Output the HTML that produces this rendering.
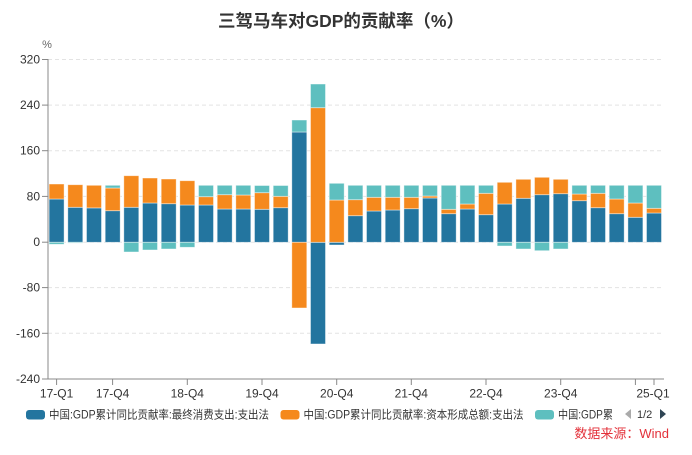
<!DOCTYPE html>
<html><head><meta charset="utf-8">
<style>
html,body{margin:0;padding:0;background:#fff;}
body{width:692px;height:450px;overflow:hidden;}
svg text{font-family:"Liberation Sans","Noto Sans CJK SC",sans-serif;}
</style></head>
<body>
<svg width="692" height="450" viewBox="0 0 692 450" xmlns="http://www.w3.org/2000/svg">
<text x="341" y="27" text-anchor="middle" font-size="17.5" font-weight="bold" fill="#333">三驾马车对GDP的贡献率（%）</text>
<text x="47" y="48" text-anchor="middle" font-size="11" fill="#666">%</text>
<g stroke="#e3e3e3" stroke-width="1" stroke-dasharray="4,3">
<line x1="48" y1="59.5" x2="664" y2="59.5"/>
<line x1="48" y1="105.1" x2="664" y2="105.1"/>
<line x1="48" y1="150.7" x2="664" y2="150.7"/>
<line x1="48" y1="196.4" x2="664" y2="196.4"/>
<line x1="48" y1="242.2" x2="664" y2="242.2"/>
<line x1="48" y1="287.6" x2="664" y2="287.6"/>
<line x1="48" y1="333.3" x2="664" y2="333.3"/>
</g>
<g font-size="12" fill="#333" text-anchor="end">
<text x="40" y="63.5">320</text>
<text x="40" y="109.1">240</text>
<text x="40" y="154.7">160</text>
<text x="40" y="200.4">80</text>
<text x="40" y="246.2">0</text>
<text x="40" y="291.6">-80</text>
<text x="40" y="337.3">-160</text>
<text x="40" y="383">-240</text>
</g>
<g stroke="#888" stroke-width="1">
<line x1="42" y1="59.5" x2="48" y2="59.5"/>
<line x1="42" y1="105.1" x2="48" y2="105.1"/>
<line x1="42" y1="150.7" x2="48" y2="150.7"/>
<line x1="42" y1="196.4" x2="48" y2="196.4"/>
<line x1="42" y1="242.2" x2="48" y2="242.2"/>
<line x1="42" y1="287.6" x2="48" y2="287.6"/>
<line x1="42" y1="333.3" x2="48" y2="333.3"/>
<line x1="42" y1="379" x2="48" y2="379"/>
</g>
<g stroke="#ffffff" stroke-opacity="0.55" stroke-width="0.8">
<g fill="#23759f">
<rect x="49.1" y="199" width="15" height="43.3"/>
<rect x="67.8" y="207.3" width="15" height="35"/>
<rect x="86.5" y="207.9" width="15" height="34.4"/>
<rect x="105.2" y="210.7" width="15" height="31.6"/>
<rect x="123.8" y="207.3" width="15" height="35"/>
<rect x="142.5" y="203" width="15" height="39.3"/>
<rect x="161.2" y="203.7" width="15" height="38.6"/>
<rect x="179.8" y="205" width="15" height="37.3"/>
<rect x="198.5" y="205" width="15" height="37.3"/>
<rect x="217.2" y="209" width="15" height="33.3"/>
<rect x="235.8" y="209" width="15" height="33.3"/>
<rect x="254.5" y="209.3" width="15" height="33"/>
<rect x="273.2" y="207.7" width="15" height="34.6"/>
<rect x="291.8" y="132" width="15" height="110.3"/>
<rect x="310.5" y="242.3" width="15" height="101.7"/>
<rect x="329.2" y="242.3" width="15" height="2.7"/>
<rect x="347.9" y="215.7" width="15" height="26.6"/>
<rect x="366.5" y="211" width="15" height="31.3"/>
<rect x="385.2" y="210" width="15" height="32.3"/>
<rect x="403.9" y="208.7" width="15" height="33.6"/>
<rect x="422.5" y="198" width="15" height="44.3"/>
<rect x="441.2" y="213.7" width="15" height="28.6"/>
<rect x="459.9" y="209" width="15" height="33.3"/>
<rect x="478.5" y="214.7" width="15" height="27.6"/>
<rect x="497.2" y="204" width="15" height="38.3"/>
<rect x="515.9" y="198.3" width="15" height="44"/>
<rect x="534.5" y="194.7" width="15" height="47.6"/>
<rect x="553.2" y="193.7" width="15" height="48.6"/>
<rect x="571.9" y="200.7" width="15" height="41.6"/>
<rect x="590.5" y="207.7" width="15" height="34.6"/>
<rect x="609.2" y="213.7" width="15" height="28.6"/>
<rect x="627.9" y="217.3" width="15" height="25"/>
<rect x="646.5" y="213" width="15" height="29.3"/>
</g>
<g fill="#f5891d">
<rect x="49.1" y="184" width="15" height="15"/>
<rect x="67.8" y="184.7" width="15" height="22.6"/>
<rect x="86.5" y="185.3" width="15" height="22.6"/>
<rect x="105.2" y="188" width="15" height="22.7"/>
<rect x="123.8" y="175.7" width="15" height="31.6"/>
<rect x="142.5" y="178" width="15" height="25"/>
<rect x="161.2" y="179" width="15" height="24.7"/>
<rect x="179.8" y="180.7" width="15" height="24.3"/>
<rect x="198.5" y="196.7" width="15" height="8.3"/>
<rect x="217.2" y="194.7" width="15" height="14.3"/>
<rect x="235.8" y="195" width="15" height="14"/>
<rect x="254.5" y="192.7" width="15" height="16.6"/>
<rect x="273.2" y="196.3" width="15" height="11.4"/>
<rect x="291.8" y="242.3" width="15" height="65.7"/>
<rect x="310.5" y="107.7" width="15" height="134.6"/>
<rect x="329.2" y="200" width="15" height="42.3"/>
<rect x="347.9" y="199.7" width="15" height="16"/>
<rect x="366.5" y="197.3" width="15" height="13.7"/>
<rect x="385.2" y="197.3" width="15" height="12.7"/>
<rect x="403.9" y="197.3" width="15" height="11.4"/>
<rect x="422.5" y="196" width="15" height="2"/>
<rect x="441.2" y="209.3" width="15" height="4.4"/>
<rect x="459.9" y="204" width="15" height="5"/>
<rect x="478.5" y="193.3" width="15" height="21.4"/>
<rect x="497.2" y="182.3" width="15" height="21.7"/>
<rect x="515.9" y="179.3" width="15" height="19"/>
<rect x="534.5" y="177.3" width="15" height="17.4"/>
<rect x="553.2" y="179.3" width="15" height="14.4"/>
<rect x="571.9" y="194" width="15" height="6.7"/>
<rect x="590.5" y="193.3" width="15" height="14.4"/>
<rect x="609.2" y="199" width="15" height="14.7"/>
<rect x="627.9" y="203" width="15" height="14.3"/>
<rect x="646.5" y="208.3" width="15" height="4.7"/>
</g>
<g fill="#5ebfbf">
<rect x="49.1" y="242.3" width="15" height="2"/>
<rect x="67.8" y="242.3" width="15" height="0.8"/>
<rect x="105.2" y="185.3" width="15" height="2.7"/>
<rect x="123.8" y="242.3" width="15" height="9.7"/>
<rect x="142.5" y="242.3" width="15" height="7.7"/>
<rect x="161.2" y="242.3" width="15" height="6.7"/>
<rect x="179.8" y="242.3" width="15" height="5"/>
<rect x="198.5" y="185.3" width="15" height="11.4"/>
<rect x="217.2" y="185.3" width="15" height="9.4"/>
<rect x="235.8" y="185.3" width="15" height="9.7"/>
<rect x="254.5" y="185.5" width="15" height="7.2"/>
<rect x="273.2" y="185.5" width="15" height="10.8"/>
<rect x="291.8" y="120" width="15" height="12"/>
<rect x="310.5" y="84" width="15" height="23.7"/>
<rect x="329.2" y="183.3" width="15" height="16.7"/>
<rect x="347.9" y="185.3" width="15" height="14.4"/>
<rect x="366.5" y="185.3" width="15" height="12"/>
<rect x="385.2" y="185.3" width="15" height="12"/>
<rect x="403.9" y="185.3" width="15" height="12"/>
<rect x="422.5" y="185.3" width="15" height="10.7"/>
<rect x="441.2" y="185.3" width="15" height="24"/>
<rect x="459.9" y="185.3" width="15" height="18.7"/>
<rect x="478.5" y="185.3" width="15" height="8"/>
<rect x="497.2" y="242.3" width="15" height="3.7"/>
<rect x="515.9" y="242.3" width="15" height="6.7"/>
<rect x="534.5" y="242.3" width="15" height="8.4"/>
<rect x="553.2" y="242.3" width="15" height="6.7"/>
<rect x="571.9" y="185.3" width="15" height="8.7"/>
<rect x="590.5" y="185.3" width="15" height="8"/>
<rect x="609.2" y="185.3" width="15" height="13.7"/>
<rect x="627.9" y="185.3" width="15" height="17.7"/>
<rect x="646.5" y="185.3" width="15" height="23"/>
</g>
</g>
<line x1="48" y1="59" x2="48" y2="379" stroke="#888" stroke-width="1"/>
<line x1="48" y1="379" x2="664" y2="379" stroke="#888" stroke-width="1"/>
<g stroke="#888" stroke-width="1">
<line x1="56.6" y1="379" x2="56.6" y2="385"/>
<line x1="112.6" y1="379" x2="112.6" y2="385"/>
<line x1="187.3" y1="379" x2="187.3" y2="385"/>
<line x1="262" y1="379" x2="262" y2="385"/>
<line x1="336.7" y1="379" x2="336.7" y2="385"/>
<line x1="411.3" y1="379" x2="411.3" y2="385"/>
<line x1="486" y1="379" x2="486" y2="385"/>
<line x1="560.7" y1="379" x2="560.7" y2="385"/>
<line x1="635.4" y1="379" x2="635.4" y2="385"/>
<line x1="654" y1="379" x2="654" y2="385"/>
</g>
<g font-size="12" fill="#333" text-anchor="middle">
<text x="56.6" y="397.5">17-Q1</text>
<text x="112.6" y="397.5">17-Q4</text>
<text x="187.3" y="397.5">18-Q4</text>
<text x="262" y="397.5">19-Q4</text>
<text x="336.7" y="397.5">20-Q4</text>
<text x="411.3" y="397.5">21-Q4</text>
<text x="486" y="397.5">22-Q4</text>
<text x="560.7" y="397.5">23-Q4</text>
<text x="653" y="397.5">25-Q1</text>
</g>
<g font-size="11.5" fill="#333">
<rect x="26" y="410" width="19" height="9.5" rx="3" fill="#23759f"/>
<text x="49" y="418.5" textLength="220" lengthAdjust="spacingAndGlyphs">中国:GDP累计同比贡献率:最终消费支出:支出法</text>
<rect x="280.5" y="410" width="19" height="9.5" rx="3" fill="#f5891d"/>
<text x="303.5" y="418.5" textLength="220" lengthAdjust="spacingAndGlyphs">中国:GDP累计同比贡献率:资本形成总额:支出法</text>
<rect x="535" y="410" width="19" height="9.5" rx="3" fill="#5ebfbf"/>
<text x="558" y="418.5" textLength="55" lengthAdjust="spacingAndGlyphs">中国:GDP累</text>
<polygon points="631,409 631,419 625,414" fill="#aaa"/>
<text x="637" y="418" font-size="11" fill="#333">1/2</text>
<polygon points="660,409 660,419 666,414" fill="#2f4554"/>
</g>
<text x="669" y="438" text-anchor="end" font-size="13" fill="#e3313a">数据来源：Wind</text>
</svg>
</body></html>
